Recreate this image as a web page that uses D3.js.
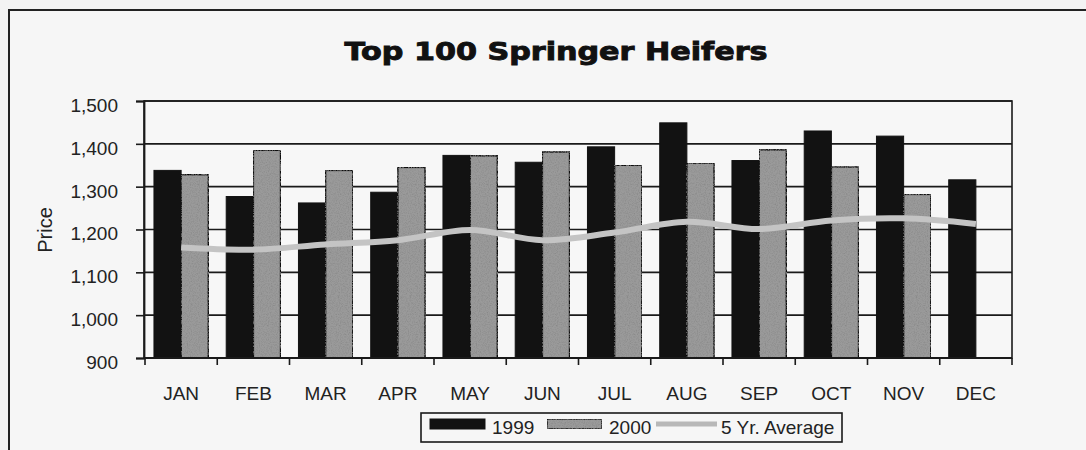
<!DOCTYPE html>
<html>
<head>
<meta charset="utf-8">
<script src="https://cdn.jsdelivr.net/npm/d3@7/dist/d3.min.js"></script>
<style>
  html, body { margin: 0; padding: 0; background: #f3f3f3; }
  svg { display: block; }
  .narrow { font-family: "Liberation Sans Narrow", "Arial Narrow", "Liberation Sans", Arial, sans-serif; }
</style>
</head>
<body>
<svg id="chart" width="1086" height="450"></svg>
<script>
const months = ["JAN","FEB","MAR","APR","MAY","JUN","JUL","AUG","SEP","OCT","NOV","DEC"];
const values1999 = [1338, 1277, 1262, 1287, 1373, 1357, 1393, 1449, 1361, 1430, 1418, 1316];
const values2000 = [1328, 1385, 1338, 1345, 1372, 1381, 1350, 1355, 1386, 1346, 1282, null];
const avg5yr = [1158, 1153, 1165, 1175, 1199, 1175, 1193, 1218, 1201, 1221, 1226, 1213];
const yTicks = [900, 1000, 1100, 1200, 1300, 1400, 1500];
const seriesNames = ["1999", "2000", "5 Yr. Average"];

const svg = d3.select("#chart");
const W = 1086, H = 450;
const plot = { left: 144, right: 1012, top: 101, bottom: 358 };

// speckle texture filter for the grey bars
const defs = svg.append("defs");
const f = defs.append("filter").attr("id", "speckle").attr("x", 0).attr("y", 0).attr("width", 1).attr("height", 1);
f.append("feTurbulence").attr("type", "fractalNoise").attr("baseFrequency", 0.9).attr("numOctaves", 2).attr("seed", 3).attr("result", "noise");
f.append("feColorMatrix").attr("in", "noise").attr("type", "matrix")
  .attr("values", "0 0 0 0 0.25  0 0 0 0 0.25  0 0 0 0 0.25  -2.2 0 0 0 1.25").attr("result", "dots");
f.append("feComposite").attr("in", "dots").attr("in2", "SourceGraphic").attr("operator", "in").attr("result", "dotsIn");
const fm = f.append("feMerge");
fm.append("feMergeNode").attr("in", "SourceGraphic");
fm.append("feMergeNode").attr("in", "dotsIn");

// background and outer frame
svg.append("rect").attr("width", W).attr("height", H).attr("fill", "#f3f3f3");
svg.append("rect").attr("x", 9).attr("y", 10).attr("width", 1100).attr("height", 460)
  .attr("fill", "#f6f6f6").attr("stroke", "#222").attr("stroke-width", 2);

// title
svg.append("text")
  .attr("x", 556).attr("y", 60)
  .attr("text-anchor", "middle")
  .attr("font-family", "'DejaVu Sans', sans-serif")
  .attr("font-weight", 900)
  .attr("font-size", 24)
  .attr("textLength", 423).attr("lengthAdjust", "spacingAndGlyphs")
  .attr("fill", "#111").attr("stroke", "#111").attr("stroke-width", 0.9)
  .text("Top 100 Springer Heifers");

const x = d3.scaleBand().domain(months).range([plot.left + 1, plot.right]).paddingInner(0).paddingOuter(0);
const inner = d3.scaleBand().domain(["1999","2000"]).range([0, x.bandwidth()]).paddingInner(0).paddingOuter(0.33);
const y = d3.scaleLinear().domain([900, 1500]).range([plot.bottom, plot.top]);

// plot background
svg.append("rect").attr("x", plot.left).attr("y", plot.top)
  .attr("width", plot.right - plot.left).attr("height", plot.bottom - plot.top)
  .attr("fill", "#f7f7f7");

// gridlines
svg.append("g").selectAll("line").data(yTicks).join("line")
  .attr("x1", plot.left).attr("x2", plot.right)
  .attr("y1", d => y(d)).attr("y2", d => y(d))
  .attr("stroke", "#1a1a1a").attr("stroke-width", 1.6);

// bars
const groups = svg.append("g").selectAll("g").data(months).join("g")
  .attr("transform", d => `translate(${x(d)},0)`);

groups.append("rect")
  .attr("x", inner("1999")).attr("width", inner.bandwidth())
  .attr("y", (d, i) => y(values1999[i]))
  .attr("height", (d, i) => y(900) - y(values1999[i]))
  .attr("fill", "#121212").attr("stroke", "#121212").attr("stroke-width", 1);

groups.filter((d, i) => values2000[i] != null).append("rect")
  .attr("x", inner("2000")).attr("width", inner.bandwidth())
  .attr("y", d => y(values2000[months.indexOf(d)]))
  .attr("height", d => y(900) - y(values2000[months.indexOf(d)]))
  .attr("fill", "#9a9a9a").attr("stroke", "#111").attr("stroke-width", 1.5)
  .attr("filter", "url(#speckle)");

// average line
const line = d3.line()
  .x((d, i) => x(months[i]) + x.bandwidth() / 2)
  .y(d => y(d))
  .curve(d3.curveCatmullRom.alpha(0.5));
svg.append("path").datum(avg5yr).attr("d", line)
  .attr("fill", "none").attr("stroke", "#c4c4c4").attr("stroke-width", 6)
  .attr("stroke-linecap", "butt");

// frame of plot (top/right)
svg.append("rect").attr("x", plot.left).attr("y", plot.top)
  .attr("width", plot.right - plot.left).attr("height", plot.bottom - plot.top)
  .attr("fill", "none").attr("stroke", "#1a1a1a").attr("stroke-width", 1.6);

// y axis
const yAxis = d3.axisLeft(y).tickValues(yTicks).tickFormat(d3.format(",")).tickSize(8).tickPadding(18);
const gy = svg.append("g").attr("transform", `translate(${plot.left},0)`).call(yAxis);
gy.select(".domain").attr("stroke", "#1a1a1a").attr("stroke-width", 1.8);
gy.selectAll(".tick line").attr("stroke", "#1a1a1a").attr("stroke-width", 1.6);
gy.attr("font-family", null).attr("font-size", null);
gy.selectAll(".tick text").attr("class", "narrow").attr("font-size", 19).attr("fill", "#222")
  .attr("dy", "0.55em");

// x axis: ticks at category boundaries
const gx = svg.append("g").attr("transform", `translate(0,${plot.bottom})`);
gx.append("line").attr("x1", plot.left).attr("x2", plot.right).attr("stroke", "#1a1a1a").attr("stroke-width", 1.8);
gx.selectAll("line.tk").data(months).join("line").attr("class", "tk")
  .attr("x1", d => x(d)).attr("x2", d => x(d)).attr("y1", 0).attr("y2", 7)
  .attr("stroke", "#1a1a1a").attr("stroke-width", 1.6);
gx.append("line").attr("x1", plot.right).attr("x2", plot.right).attr("y1", 0).attr("y2", 7)
  .attr("stroke", "#1a1a1a").attr("stroke-width", 1.6);
gx.selectAll("text").data(months).join("text")
  .attr("class", "narrow")
  .attr("x", d => x(d) + x.bandwidth() / 2).attr("y", 42)
  .attr("text-anchor", "middle").attr("font-size", 19).attr("fill", "#222")
  .text(d => d);

// y label
svg.append("text").attr("class", "narrow")
  .attr("transform", "translate(52,230) rotate(-90)")
  .attr("text-anchor", "middle").attr("font-size", 20).attr("fill", "#222")
  .text("Price");

// legend
const lg = svg.append("g");
lg.append("rect").attr("x", 421).attr("y", 413).attr("width", 421).attr("height", 29)
  .attr("fill", "#f6f6f6").attr("stroke", "#1a1a1a").attr("stroke-width", 1.6);
lg.append("rect").attr("x", 430).attr("y", 419).attr("width", 55).attr("height", 10)
  .attr("fill", "#121212").attr("stroke", "#121212");
lg.append("text").attr("class", "narrow").attr("x", 492).attr("y", 434).attr("font-size", 19).attr("fill", "#222").text(seriesNames[0]);
lg.append("rect").attr("x", 547).attr("y", 419).attr("width", 55).attr("height", 10)
  .attr("fill", "#9a9a9a").attr("stroke", "#111").attr("stroke-width", 1.5).attr("filter", "url(#speckle)");
lg.append("text").attr("class", "narrow").attr("x", 609).attr("y", 434).attr("font-size", 19).attr("fill", "#222").text(seriesNames[1]);
lg.append("line").attr("x1", 656).attr("x2", 717).attr("y1", 424).attr("y2", 424)
  .attr("stroke", "#b8b8b8").attr("stroke-width", 5);
lg.append("text").attr("class", "narrow").attr("x", 721).attr("y", 434).attr("font-size", 19).attr("fill", "#222").text(seriesNames[2]);
</script>
</body>
</html>
